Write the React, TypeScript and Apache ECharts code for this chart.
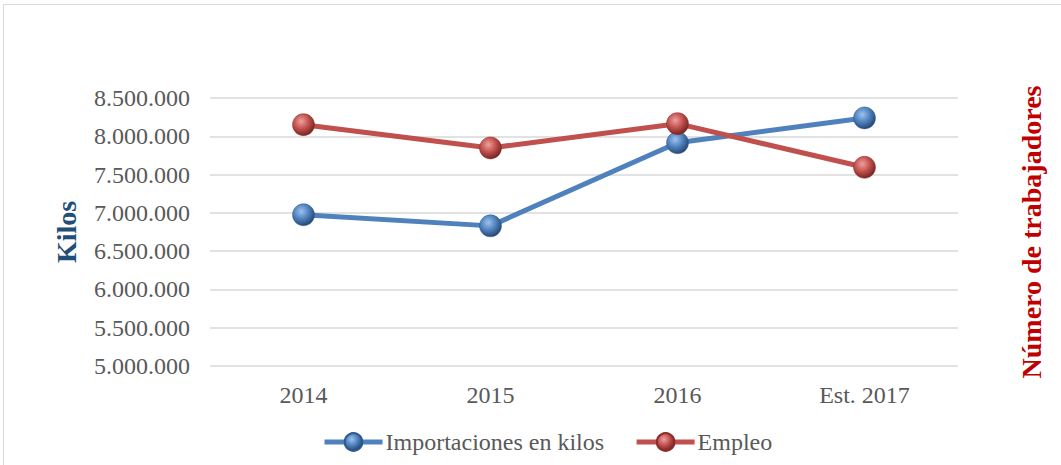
import React, { useEffect, useRef } from "react";
import * as echarts from "echarts";

const categories = ["2014", "2015", "2016", "Est. 2017"];
const importacionesKilos = [6975000, 6830000, 7915000, 8240000];
const empleo = [8152000, 7848000, 8165000, 7595000];

const FONT = "'Liberation Serif', 'Times New Roman', serif";

function sphere(base: string, light: string, dark: string) {
  return new echarts.graphic.RadialGradient(0.4, 0.35, 0.7, [
    { offset: 0, color: light },
    { offset: 0.5, color: base },
    { offset: 1, color: dark },
  ]);
}

export default function App() {
  const ref = useRef<HTMLDivElement>(null);
  useEffect(() => {
    if (!ref.current) return;
    const chart = echarts.init(ref.current, undefined, { renderer: "svg" });
    const blueSphere = sphere("#4F81BD", "#9CC3EE", "#1F3F66");
    const redSphere = sphere("#C0504D", "#EFA09E", "#6B1E1C");
    chart.setOption({
      animation: false,
      backgroundColor: "#ffffff",
      textStyle: { fontFamily: FONT },
      graphic: [
        {
          type: "rect",
          shape: { x: 3.5, y: 4.5, width: 1070, height: 480 },
          style: { fill: "none", stroke: "#D9D9D9", lineWidth: 1 },
          silent: true,
        },
      ],
      grid: { left: 210, right: 103, top: 98, bottom: 99 },
      legend: {
        bottom: 6,
        left: 317,
        itemWidth: 58,
        itemHeight: 22,
        itemGap: 30,
        lineStyle: { width: 5 },
        textStyle: { fontFamily: FONT, fontSize: 24, color: "#595959", padding: [0, 0, 0, -2] },
        data: ["Importaciones en kilos", "Empleo"],
      },
      xAxis: {
        type: "category",
        data: categories,
        boundaryGap: true,
        axisLine: { show: false },
        axisTick: { show: false },
        axisLabel: { fontFamily: FONT, fontSize: 24, color: "#595959", margin: 17 },
      },
      yAxis: [
        {
          type: "value",
          min: 5000000,
          max: 8500000,
          interval: 500000,
          name: "Kilos",
          nameLocation: "middle",
          nameGap: 130,
          nameTextStyle: { fontFamily: FONT, fontSize: 28, fontWeight: "bold", color: "#1F4E79" },
          axisLine: { show: false },
          axisTick: { show: false },
          axisLabel: {
            fontFamily: FONT,
            fontSize: 24,
            color: "#595959",
            margin: 20,
            formatter: (v: number) => v.toLocaleString("de-DE"),
          },
          splitLine: { lineStyle: { color: "#D9D9D9", width: 1.5 } },
        },
        {
          type: "value",
          min: 5000000,
          max: 8500000,
          interval: 500000,
          name: "Número de trabajadores",
          nameLocation: "middle",
          nameGap: 59,
          nameRotate: 90,
          nameTextStyle: { fontFamily: FONT, fontSize: 28, fontWeight: "bold", color: "#C00000" },
          axisLine: { show: false },
          axisTick: { show: false },
          axisLabel: { show: false },
          splitLine: { show: false },
        },
      ],
      series: [
        {
          name: "Importaciones en kilos",
          type: "line",
          yAxisIndex: 0,
          data: importacionesKilos,
          symbol: "circle",
          symbolSize: 22,
          lineStyle: { color: "#4F81BD", width: 5 },
          itemStyle: { color: blueSphere, borderColor: "#2C5A8C", borderWidth: 0.5 },
          z: 2,
        },
        {
          name: "Empleo",
          type: "line",
          yAxisIndex: 1,
          data: empleo,
          symbol: "circle",
          symbolSize: 22,
          lineStyle: { color: "#C0504D", width: 5 },
          itemStyle: { color: redSphere, borderColor: "#8C2C2A", borderWidth: 0.5 },
          z: 3,
        },
      ],
    });
    return () => chart.dispose();
  }, []);
  return (
    <div
      ref={ref}
      style={{ position: "absolute", left: 0, top: 0, width: 1061, height: 465 }}
    />
  );
}
